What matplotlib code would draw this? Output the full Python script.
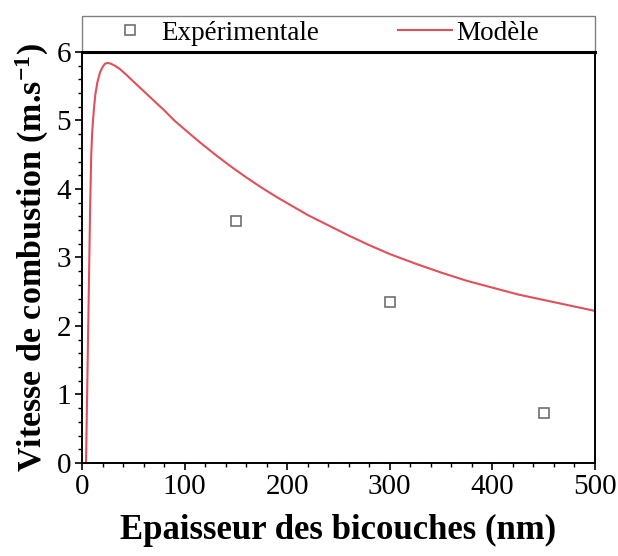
import numpy as np
import matplotlib
matplotlib.use('Agg')
import matplotlib.pyplot as plt
from matplotlib.ticker import MultipleLocator
from matplotlib.patches import Rectangle

# experimental points
exp_x = [150, 300, 450]
exp_y = [3.53, 2.35, 0.73]

# model curve
mod_x = [3.9, 5, 6.5, 8, 9, 10, 11.5, 13, 15, 17.5, 20, 22.5, 25, 28, 32, 37,
         43, 50, 60, 70, 80, 90, 100, 115, 130, 145, 160, 175, 190, 205, 220,
         240, 260, 280, 300, 325, 350, 375, 400, 425, 450, 475, 500]
mod_y = [0.0, 1.0, 2.4, 3.8, 4.5, 4.85, 5.15, 5.38, 5.56, 5.7, 5.78, 5.83,
         5.84, 5.83, 5.8, 5.75, 5.67, 5.57, 5.43, 5.29, 5.15, 5.0, 4.87, 4.68,
         4.5, 4.33, 4.17, 4.02, 3.88, 3.75, 3.62, 3.47, 3.32, 3.18, 3.05, 2.91,
         2.78, 2.66, 2.56, 2.46, 2.38, 2.30, 2.22]

plt.rcParams['font.family'] = ['Liberation Serif', 'DejaVu Serif']
plt.rcParams['mathtext.fontset'] = 'custom'
plt.rcParams['mathtext.rm'] = 'Liberation Serif'
plt.rcParams['mathtext.bf'] = 'Liberation Serif:bold'
plt.rcParams['mathtext.default'] = 'bf'

fig = plt.figure(figsize=(6.18, 5.56), dpi=100)
ax = fig.add_axes([0.1327, 0.1673, 0.8301, 0.7392])

ax.plot(exp_x, exp_y, linestyle='none', marker='s', markersize=6.5,
        markerfacecolor='white', markeredgecolor='#707070', markeredgewidth=1.2,
        label='Expérimentale')
ax.plot(mod_x, mod_y, color='#e0505a', linewidth=1.5, label='Modèle')

ax.set_xlim(0, 500)
ax.set_ylim(0, 6)
ax.xaxis.set_major_locator(MultipleLocator(100))
ax.xaxis.set_minor_locator(MultipleLocator(20))
ax.yaxis.set_major_locator(MultipleLocator(1))
ax.yaxis.set_minor_locator(MultipleLocator(0.2))
ax.tick_params(which='major', direction='out', length=5, width=1.2, labelsize=21, pad=3)
ax.tick_params(which='minor', direction='out', length=3, width=1.0)

for s in ax.spines.values():
    s.set_linewidth(1.4)
ax.spines['top'].set_linewidth(2.2)

ax.set_xlabel('Epaisseur des bicouches (nm)', fontsize=25, fontweight='bold', labelpad=10)
ax.set_ylabel('Vitesse de combustion (m.s$^{-1}$)', fontsize=24.5, fontweight='bold', labelpad=4)

# legend box sitting on top of the axes
ax.add_patch(Rectangle((0, 1), 1, 0.088, transform=ax.transAxes, clip_on=False,
                       fill=False, edgecolor='#808080', linewidth=1.0))
leg = ax.legend(ncol=2, loc='center left', bbox_to_anchor=(103 / 618, 1 - 33 / 556),
                bbox_transform=fig.transFigure, borderaxespad=0, borderpad=0,
                fontsize=19.5, frameon=False, handlelength=2.0,
                handletextpad=0.15, columnspacing=2.9)

plt.savefig('out.png', dpi=100)
